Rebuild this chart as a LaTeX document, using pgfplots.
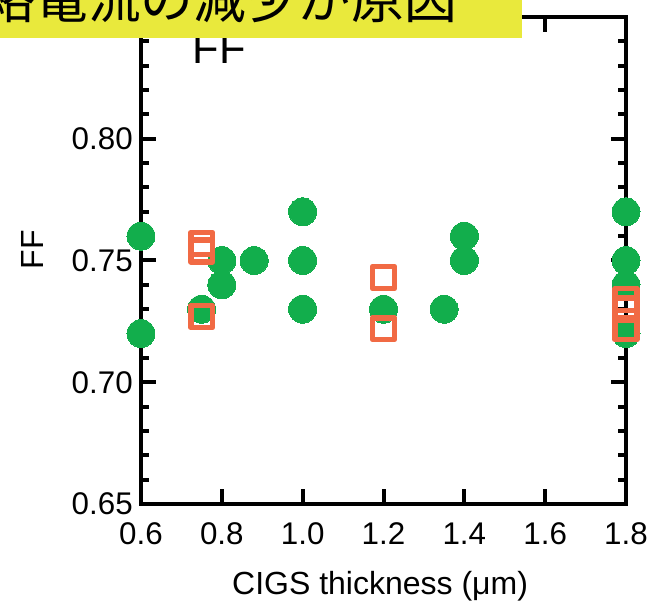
\documentclass[border=0pt]{standalone}
\usepackage{fontspec}
\setmainfont{Liberation Sans}
\newfontfamily\jpfont{Noto Sans CJK JP}
\usepackage{pgfplots}
\pgfplotsset{compat=1.18}

\definecolor{dotgreen}{RGB}{18,174,76}
\definecolor{sqorange}{RGB}{241,106,68}
\definecolor{bannery}{RGB}{233,233,60}

\begin{document}
\begin{tikzpicture}
\begin{axis}[
  at={(0pt,0pt)}, anchor=south west,
  scale only axis,
  width=363.75pt, height=365.25pt,
  xmin=0.6, xmax=1.8, ymin=0.65, ymax=0.85,
  clip=false,
  axis line style={line width=3pt},
  every tick/.style={line width=3pt, black},
  major tick length=11.25pt,
  minor tick length=6pt,
  tick align=inside,
  xtick={0.6,0.8,1.0,1.2,1.4,1.6,1.8},
  ytick={0.65,0.70,0.75,0.80,0.85},
  yticklabels={0.65,0.70,0.75,0.80,},
  minor ytick={0.66,0.67,0.68,0.69,0.71,0.72,0.73,0.74,0.76,0.77,0.78,0.79,0.81,0.82,0.83,0.84},
  /pgf/number format/assume math mode=true,
  xticklabel={\pgfmathprintnumber[fixed,fixed zerofill,precision=1]{\tick}},
  xticklabel style={font=\fontsize{23.5}{23.5}\selectfont, anchor=north, inner sep=0pt, yshift=-14pt},
  yticklabel style={font=\fontsize{23.5}{23.5}\selectfont, anchor=east, inner sep=0pt, xshift=-6pt},
  xlabel={CIGS thickness (μm)},
  xlabel style={font=\fontsize{24}{24}\selectfont, at={(rel axis cs:0.493,-0.1848)}, anchor=base},
  ylabel={FF},
  ylabel style={font=\fontsize{24}{24}\selectfont, at={(rel axis cs:-0.2247,0.5216)}, anchor=center},
]
% measured FF values, solid circles
\addplot[only marks, color=dotgreen, mark=*, mark size=10.5pt,
  mark options={fill=dotgreen, draw=dotgreen, line width=0pt}]
  coordinates {
    (0.6,0.76) (0.6,0.72)
    (0.75,0.73)
    (0.8,0.75) (0.8,0.74)
    (0.88,0.75)
    (1.0,0.77) (1.0,0.75) (1.0,0.73)
    (1.2,0.73)
    (1.35,0.73)
    (1.4,0.76) (1.4,0.75)
    (1.8,0.77) (1.8,0.75) (1.8,0.74) (1.8,0.72)
  };
% open squares
\addplot[only marks, color=sqorange, mark=square, mark size=8.2pt,
  mark options={draw=sqorange, line width=4.3pt, line join=round, fill=none}]
  coordinates {
    (0.75,0.757) (0.75,0.754) (0.75,0.727)
    (1.2,0.743) (1.2,0.722)
    (1.8,0.734) (1.8,0.730) (1.8,0.722)
  };
\node[anchor=base west, inner sep=0pt, font=\fontsize{32.5}{32.5}\selectfont]
  at (rel axis cs:0.1064,0.9035) {FF};
\end{axis}
% banner across the top
\begin{scope}
  \clip (-105.75pt,-75pt) rectangle (381.75pt,378pt);
  \fill[bannery] (-110pt,349.5pt) rectangle (285.75pt,390pt);
  \node[anchor=base east, inner sep=0pt, font=\jpfont\fontsize{39.5}{39.5}\selectfont]
    at (237pt,363.75pt) {短絡電流の減少が原因};
\end{scope}
\pgfresetboundingbox
\path (-105.75pt,-75pt) rectangle (381.75pt,378pt);
\end{tikzpicture}
\end{document}
